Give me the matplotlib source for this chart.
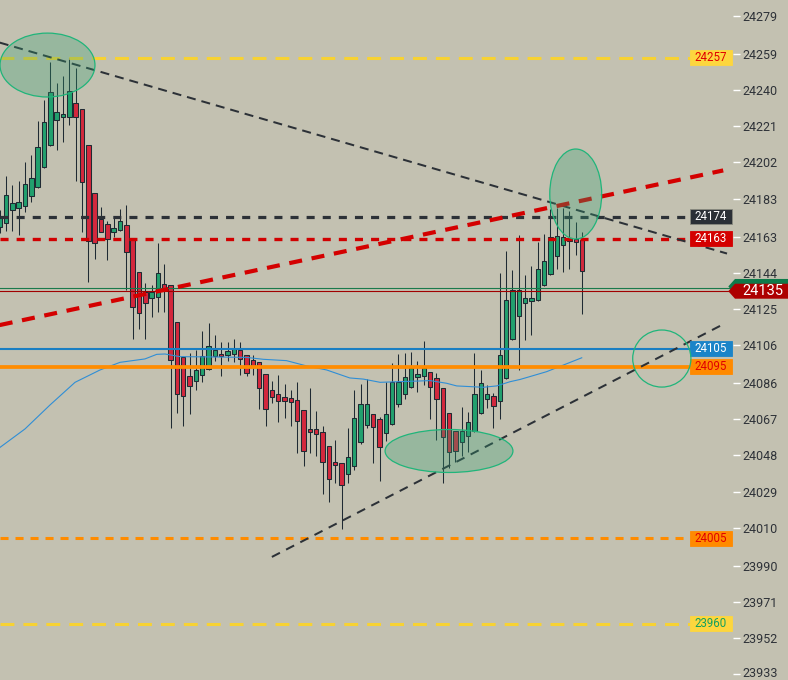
import matplotlib.pyplot as plt
import matplotlib.transforms as mtransforms
from matplotlib.patches import Rectangle, Ellipse, Polygon

plt.rcParams['font.family'] = ['Roboto', 'DejaVu Sans']
plt.rcParams['lines.scale_dashes'] = False

# ---- candles ----
opens = [24168, 24170, 24177, 24178, 24179, 24184.5, 24189, 24199.5, 24211, 24224.5,
         24226, 24226, 24233, 24230, 24211, 24186, 24172.5, 24169.5, 24165.5, 24166.5,
         24169, 24162.5, 24144.5, 24134, 24130.5, 24131.5, 24138, 24137.5, 24118, 24099.5,
         24089.5, 24087, 24090, 24093.5, 24100, 24101.5, 24101, 24101.5, 24103.5, 24101,
         24098, 24097, 24091, 24082.5, 24080.5, 24078.5, 24078, 24077, 24072, 24062,
         24062, 24060.5, 24053, 24044.5, 24044, 24038, 24042.5, 24055, 24064, 24070,
         24067, 24059.5, 24064.5, 24075, 24080.5, 24084, 24089, 24089.5, 24092, 24088.5,
         24083.5, 24070.5, 24061, 24055, 24058, 24061, 24070.5, 24077.5, 24079, 24076.5,
         24088.5, 24109, 24121.5, 24128, 24129, 24129.5, 24137.5, 24143.5, 24153, 24158.5,
         24160.5, 24162, 24161]
highs = [24177, 24195, 24190, 24192, 24202, 24206, 24224, 24235, 24255, 24244,
         24247.5, 24257, 24251.5, 24230, 24211, 24186, 24178.5, 24171, 24173, 24177.5,
         24179.5, 24162.5, 24144.5, 24138.5, 24137.5, 24159.5, 24148.5, 24137.5, 24118, 24099.5,
         24102, 24103.5, 24113.5, 24117.5, 24111.5, 24107.5, 24107.5, 24109, 24107.5, 24101,
         24101, 24097, 24091, 24087, 24090, 24085.5, 24082.5, 24086.5, 24072, 24083.5,
         24071.5, 24063.5, 24053, 24056, 24044, 24062.5, 24082.5, 24085.5, 24088, 24070,
         24068, 24086.5, 24096.5, 24101.5, 24102, 24102.5, 24097.5, 24108, 24092, 24091.5,
         24083.5, 24070.5, 24061, 24073.5, 24071, 24102, 24093, 24085, 24081, 24144,
         24155.5, 24145.5, 24164, 24143, 24147.5, 24160, 24164.5, 24177.5, 24178, 24178,
         24176.5, 24170.5, 24165.5]
lows = [24165, 24166, 24166, 24164, 24176, 24181, 24188.5, 24199, 24210.5, 24208.5,
        24213, 24221.5, 24192, 24165.5, 24139, 24151, 24165.5, 24150.5, 24163, 24166,
        24135, 24109, 24114.5, 24109, 24120.5, 24123.5, 24123.5, 24062.5, 24070.5, 24063.5,
        24069.5, 24082.5, 24086.5, 24093, 24097.5, 24089.5, 24097.5, 24097, 24090, 24089.5,
        24090, 24072.5, 24063.5, 24075.5, 24065.5, 24067.5, 24063.5, 24049.5, 24042.5, 24049.5,
        24047.5, 24027.5, 24023.5, 24033.5, 24009.5, 24033.5, 24040.5, 24054, 24062.5, 24044,
        24034.5, 24055.5, 24064, 24073.5, 24077.5, 24083.5, 24081.5, 24085, 24067, 24056,
        24033.5, 24041.5, 24044.5, 24047.5, 24050, 24060.5, 24070, 24073, 24062.5, 24067,
        24088, 24108.5, 24093, 24108.5, 24111.5, 24129, 24137, 24143, 24146, 24144.5,
        24146, 24153.5, 24122.5]
closes = [24173, 24185, 24180.5, 24181, 24190.5, 24194, 24210, 24223, 24239, 24228.5,
          24227.5, 24239.5, 24226, 24191.5, 24160.5, 24159.5, 24165.5, 24162, 24167.5, 24171,
          24155, 24126, 24123, 24128, 24134, 24144, 24136, 24098, 24080.5, 24079,
          24084.5, 24093, 24100, 24105.5, 24103.5, 24100.5, 24103, 24104, 24098.5, 24091.5,
          24094.5, 24083.5, 24072.5, 24078.5, 24076.5, 24076.5, 24076, 24066, 24050.5, 24060.5,
          24059, 24044.5, 24035.5, 24043, 24032.5, 24047, 24067.5, 24075, 24075, 24063,
          24052.5, 24069.5, 24086.5, 24086.5, 24089, 24094, 24091, 24094, 24084, 24077.5,
          24057.5, 24050, 24050.5, 24061, 24065.5, 24080.5, 24086, 24080, 24074, 24101,
          24129.5, 24135, 24135, 24130.5, 24130.5, 24146, 24150, 24163, 24163.5, 24163,
          24162, 24160, 24145]

# moving average, sampled along the line
ma_idx = [0.05, 4.0, 7.95, 11.9, 15.85, 19.0, 22.95, 24.8, 26.1, 28.5, 34.8, 39.0, 41.65,
          45.3, 48.5, 51.65, 55.3, 57.45, 60.1, 68.0, 70.6, 72.2, 76.4, 78.5, 80.6, 82.2,
          83.75, 86.4, 91.95]
ma_vals = [24052.2, 24061.9, 24074.5, 24086.4, 24092.9, 24096.9, 24098.7, 24101.1, 24101.3,
           24099.9, 24099.7, 24099.5, 24098.5, 24097.8, 24095.0, 24092.9, 24088.7, 24088.1,
           24086.4, 24087.3, 24085.9, 24084.5, 24083.8, 24084.5, 24086.7, 24087.9, 24089.4,
           24092.0, 24099.3]

# horizontal levels
level_prices = [24257, 24173.5, 24162, 24104, 24094.5, 24004.5, 23959.5]
level_texts = ['24257', '24174', '24163', '24105', '24095', '24005', '23960']
level_colors = ['#f7d233', '#2c3137', '#d10000', '#1a7fc3', '#ff8c00', '#ff8c00', '#f7d233']
level_box = ['#fdd63e', '#2b3036', '#d40000', '#1a84c8', '#ff8a00', '#ff8a00', '#fdd63e']
level_txtcol = ['#e00000', '#ffffff', '#ffffff', '#ffffff', '#e00000', '#e00000', '#12a060']
level_lw = [2.2, 2.3, 2.4, 1.5, 2.7, 2.2, 2.2]
level_dash = [(10, 6.5), (5.8, 5.8), (5.8, 5.8), None, None, (5.8, 5.0), (10, 6.5)]

bid, ask = 24134.3, 24136.2
bid_text = '24135'

# trend lines (candle index, price)
trend_lines = [
    ((0.0, 24265.0), (114.9, 24154.1), '#2c3137', 1.45, (6.5, 4.3)),
    ((0.0, 24116.5), (114.3, 24197.8), '#d40000', 3.0, (9.4, 7.0)),
    ((43.0, 23994.6), (114.7, 24117.6), '#2c3137', 1.45, (6.5, 5.0)),
]

# highlight ellipses (centre index, centre price, width in candles, height in price, filled)
ellipses = [
    (7.55, 24253.2, 15.0, 33.6, True),
    (70.98, 24050.3, 20.2, 22.6, True),
    (91.0, 24185.4, 8.2, 47.3, True),
    (104.6, 24098.9, 9.2, 30.0, False),
]

tick_labels = [23933, 23952, 23971, 23990, 24010, 24029, 24048, 24067, 24086, 24106,
               24125, 24144, 24163, 24183, 24202, 24221, 24240, 24259, 24279]

bg = '#c3c1b1'
up_col = '#22a06e'
dn_col = '#d3283d'
edge = '#1f2a33'

fig = plt.figure(figsize=(7.88, 6.8), dpi=100)
fig.patch.set_facecolor(bg)
ax = fig.add_axes([0, 0, 733 / 788, 1])
ax.set_facecolor(bg)
ax.set_xlim(0.047, 115.845)
ax.set_ylim(23929.9, 24287.4)
for s in ax.spines.values():
    s.set_visible(False)
ax.set_xticks([])
ax.yaxis.tick_right()
ax.set_yticks(tick_labels)
ax.set_yticklabels([str(t) for t in tick_labels])
ax.tick_params(axis='y', direction='out', length=5, width=1, color='white',
               pad=2, labelsize=9, labelcolor='#2e3238')
# bottom label sits right at the edge, nudge it up a little so it stays whole
lab0 = ax.get_yticklabels()[0]
lab0.set_transform(lab0.get_transform() +
                   mtransforms.ScaledTranslation(0, 2.5 / 100, fig.dpi_scale_trans))

# candles
for i in range(len(opens)):
    o, h, l, c = opens[i], highs[i], lows[i], closes[i]
    col = up_col if c >= o else dn_col
    ax.vlines(i, l, h, color=edge, lw=0.75, zorder=2)
    lo = min(o, c)
    hgt = max(abs(c - o), 0.8)
    ax.bar(i, hgt, bottom=lo, width=0.7, color=col, edgecolor=edge, lw=0.75, zorder=3)

ax.plot(ma_idx, ma_vals, color='#2f8ed6', lw=0.8, zorder=4)

# levels + label boxes
trans = mtransforms.blended_transform_factory(ax.transAxes, ax.transData)
box_h = 7.9
for p, t, lc, bc, tc, lw, ds in zip(level_prices, level_texts, level_colors, level_box,
                                    level_txtcol, level_lw, level_dash):
    ln = ax.axhline(p, xmin=0, xmax=690 / 733, color=lc, lw=lw, zorder=5)
    if ds is not None:
        ln.set_dashes(ds)
    ax.add_patch(Rectangle((690 / 733, p - box_h / 2), 42 / 733, box_h, transform=trans,
                           facecolor=bc, edgecolor='#8a8a80' if bc == '#2b3036' else bc,
                           lw=0.6, zorder=7, clip_on=False))
    ax.text(711 / 733, p, t, transform=trans, ha='center', va='center', color=tc,
            fontsize=8.3, zorder=8)

# bid / ask lines and marker
ax.axhline(ask, color='#1a7a4c', lw=0.8, zorder=5)
ax.axhline(bid, color='#a00000', lw=0.8, zorder=5)
hh = 3.94
for p, col in [(ask + 0.6, '#0e7a4a'), (bid, '#ad0000')]:
    ax.add_patch(Polygon([(728.3 / 733, p), (735 / 733, p + hh), (788 / 733, p + hh),
                          (788 / 733, p - hh), (735 / 733, p - hh)], closed=True,
                         transform=trans, facecolor=col, edgecolor='none',
                         zorder=9, clip_on=False))
ax.text(763 / 733, bid, bid_text, transform=trans, ha='center', va='center',
        color='white', fontsize=10.5, zorder=10, clip_on=False)

# trend lines
for (x0, y0), (x1, y1), col, lw, ds in trend_lines:
    ln, = ax.plot([x0, x1], [y0, y1], color=col, lw=lw, zorder=6)
    ln.set_dashes(ds)

# highlight ellipses
for cx, cy, w, h, filled in ellipses:
    ax.add_patch(Ellipse((cx, cy), w, h, facecolor=(0.2, 0.63, 0.45, 0.3) if filled else 'none',
                         edgecolor='#1fb57a', lw=0.9, zorder=11))

fig.savefig('out.png', dpi=100, facecolor=bg)
